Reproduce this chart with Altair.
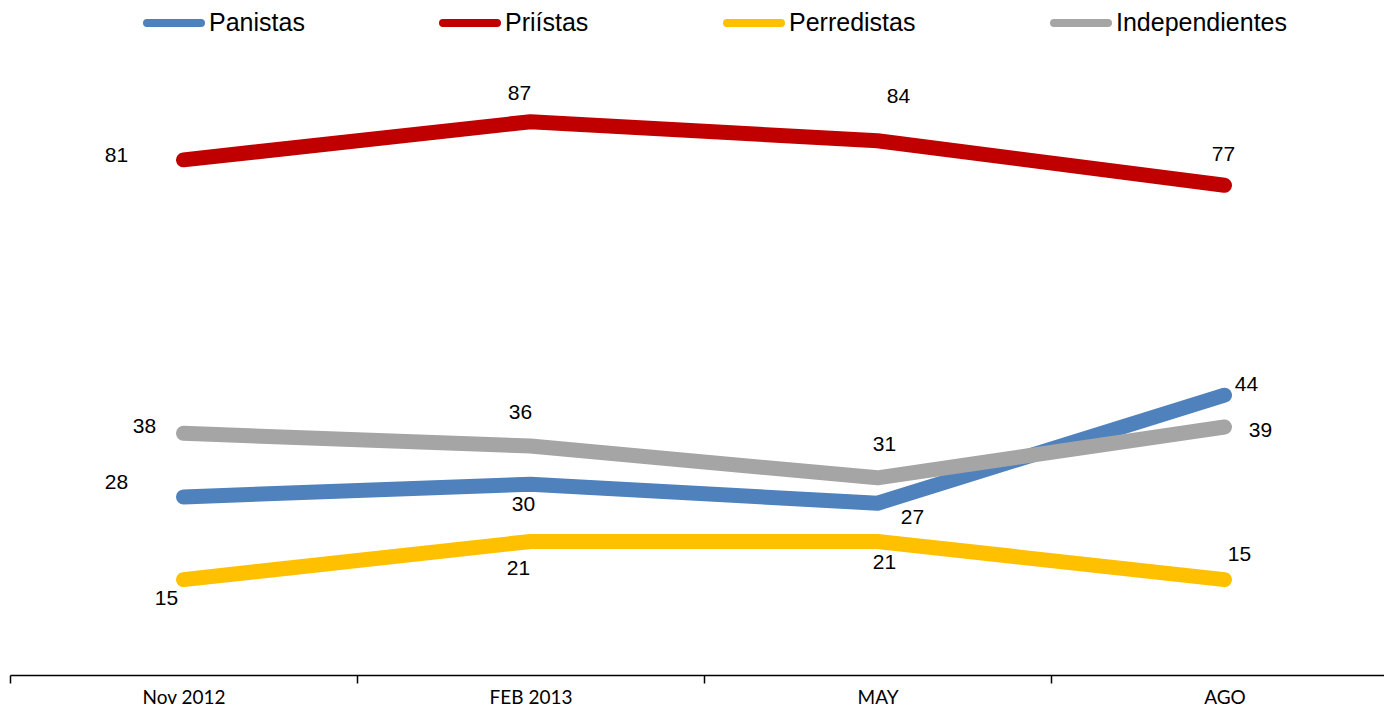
import altair as alt
import pandas as pd

# ---- data ----
periods = ["Nov 2012", "FEB 2013", "MAY", "AGO"]
series_names = ["Panistas", "Priístas", "Perredistas", "Independientes"]
panistas = [28, 30, 27, 44]
priistas = [81, 87, 84, 77]
perredistas = [15, 21, 21, 15]
independientes = [38, 36, 31, 39]

# ---- style ----
colors = ["#4F81BD", "#C00000", "#FFC000", "#A5A5A5"]
# pixel offsets of each data label from its point (label placement style)
label_offsets = {
    "Panistas": [(-67, -14), (-7, 21), (35, 15), (22, -10)],
    "Priístas": [(-67, -4), (-11, -28), (21, -44), (-1, -30)],
    "Perredistas": [(-17, 19), (-12, 28), (7, 22), (15, -25)],
    "Independientes": [(-39, -6), (-10, -33), (7, -33), (36, 4)],
}

# layout: the category axis runs past the right edge of the page (as in the original)
PLOT_W = 1374          # visible plot width
CAT_W = 347            # width of one category interval
x_max = PLOT_W / CAT_W  # visible extent in category units

values = [panistas, priistas, perredistas, independientes]
rows = []
for name, vals in zip(series_names, values):
    for i, (p, v) in enumerate(zip(periods, vals)):
        rows.append({"series": name, "period": p, "pos": i + 0.5, "value": v})
df = pd.DataFrame(rows)

label_expr = "[" + ",".join(f"'{p}'" for p in periods) + "][datum.value]"

x_enc = alt.X(
    "pos:Q",
    scale=alt.Scale(domain=[0, x_max], nice=False, zero=False),
    axis=alt.Axis(
        title=None,
        values=list(range(len(periods))),
        labelExpr=label_expr,
        labelOffset=CAT_W / 2,
        labelFlush=False,
        labelOverlap=False,
        labelBound=False,
        labelAngle=0,
        labelFont="Lato",
        labelFontSize=19,
        labelColor="#000000",
        labelBaseline="alphabetic",
        labelPadding=20,
        domainColor="#000000",
        domainWidth=1.5,
        tickColor="#000000",
        tickWidth=1.5,
        tickSize=8,
        grid=False,
    ),
)
y_enc = alt.Y("value:Q", scale=alt.Scale(domain=[0, 100], nice=False, zero=True), axis=None)

lines = alt.Chart(df).mark_line(
    strokeWidth=15, strokeCap="round", strokeJoin="round"
).encode(
    x=x_enc,
    y=y_enc,
    color=alt.Color(
        "series:N",
        sort=series_names,
        scale=alt.Scale(domain=series_names, range=colors),
        legend=alt.Legend(
            title=None,
            orient="none",
            direction="horizontal",
            legendX=133,
            legendY=-47,
            symbolType="M-1,0L1,0Z",
            symbolSize=2916,
            symbolStrokeWidth=8,
            labelFont="Liberation Sans",
            labelFontSize=25,
            labelColor="#000000",
            labelOffset=4,
            labelLimit=0,
            columnPadding=134,
        ),
    ),
)

label_layers = []
for name in series_names:
    for p, (dx, dy) in zip(periods, label_offsets[name]):
        label_layers.append(
            alt.Chart(df)
            .transform_filter((alt.datum.series == name) & (alt.datum.period == p))
            .mark_text(
                dx=dx,
                dy=dy,
                align="center",
                baseline="middle",
                font="Liberation Sans",
                fontSize=21,
                color="#000000",
            )
            .encode(x=x_enc, y=y_enc, text=alt.Text("value:Q"))
        )

chart = (
    alt.layer(lines, *label_layers)
    .properties(
        width=PLOT_W,
        height=636,
        autosize="none",
        padding={"left": 2, "top": 31, "right": 0, "bottom": 32},
        background="#ffffff",
    )
    .configure_view(stroke=None)
    .configure_line(strokeJoin="round", strokeCap="round")
)

chart.save("out.html", embed_options={"renderer": "svg", "actions": False})
